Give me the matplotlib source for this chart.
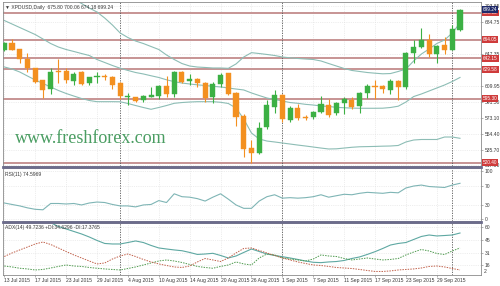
import numpy as np
import matplotlib
matplotlib.use('Agg')
import matplotlib.pyplot as plt
import matplotlib.transforms as mtransforms
from matplotlib.lines import Line2D

plt.rcParams['font.family'] = ['Liberation Sans', 'DejaVu Sans']

# daily XPDUSD bars, 13 Jul 2015 .. 2 Oct 2015
opens = [652.0, 660.0, 652.8, 641.8, 630.6, 616.9, 606.0, 627.8, 627.8, 616.1,
         626.0, 613.0, 620.5, 621.7, 620.0, 613.8, 597.0, 596.7, 593.6, 597.4,
         598.6, 609.9, 600.2, 626.3, 615.8, 617.7, 613.8, 597.4, 612.3, 624.8,
         601.4, 574.9, 537.1, 532.0, 562.3, 585.7, 599.4, 570.2, 583.8, 574.0,
         574.0, 580.0, 587.7, 578.2, 589.7, 593.6, 586.5, 601.4, 610.3, 609.9,
         605.2, 615.8, 609.2, 648.2, 655.2, 663.7, 647.35, 657.9, 652.0, 675.80]
highs = [661.0, 664.5, 653.0, 648.2, 631.0, 617.5, 630.6, 641.1, 630.6, 626.6,
         627.0, 621.0, 626.6, 624.0, 622.0, 614.6, 601.4, 597.5, 599.0, 608.4,
         611.0, 621.6, 627.0, 627.0, 624.0, 619.0, 614.6, 615.0, 624.8, 625.5,
         603.0, 577.0, 546.8, 568.3, 593.6, 605.2, 600.0, 586.0, 589.0, 576.0,
         581.0, 598.0, 595.0, 591.0, 597.0, 596.6, 602.6, 612.2, 617.0, 611.0,
         618.0, 617.0, 650.0, 663.7, 677.4, 670.7, 658.0, 667.6, 681.0, 700.06]
lows = [651.0, 651.5, 637.2, 626.6, 613.5, 595.5, 600.2, 613.0, 613.0, 611.5,
        611.0, 611.0, 613.9, 617.0, 606.0, 594.3, 587.7, 591.5, 591.5, 596.7,
        595.0, 597.0, 597.0, 613.0, 611.0, 609.0, 591.6, 590.0, 609.0, 599.0,
        563.0, 527.3, 519.6, 531.0, 559.3, 578.7, 568.0, 568.0, 570.0, 570.0,
        571.0, 578.0, 574.0, 576.0, 576.8, 583.5, 578.0, 595.5, 594.4, 601.4,
        600.6, 593.6, 607.0, 636.5, 654.0, 644.2, 636.5, 647.35, 652.0, 674.18]
closes = [659.9, 652.0, 641.1, 630.6, 615.0, 605.2, 626.6, 626.6, 617.0, 623.9,
          612.0, 620.0, 621.7, 620.0, 611.4, 598.2, 598.2, 592.7, 598.2, 599.4,
          609.9, 600.0, 626.3, 615.0, 618.1, 613.8, 595.5, 612.3, 622.8, 600.6,
          573.4, 535.9, 532.0, 561.2, 587.7, 599.4, 571.0, 584.4, 572.2, 572.5,
          579.5, 588.9, 576.0, 589.7, 594.7, 585.7, 601.4, 609.9, 609.2, 606.0,
          615.8, 608.4, 648.9, 655.2, 663.7, 647.35, 656.7, 652.0, 676.2, 699.24]

bb_upper = [741.0, 735.0, 730.0, 727.0, 723.0, 719.0, 717.0, 715.0, 713.0, 711.5,
            706.4, 701.1, 696.4, 689.4, 681.2, 671.9, 666.6, 662.5, 659.6, 656.1,
            652.6, 646.2, 640.9, 636.2, 633.3, 632.1, 631.6, 631.0, 631.0, 630.6,
            635.7, 643.8, 648.9, 647.9, 646.8, 645.6, 643.8, 642.9, 642.1, 641.5,
            640.9, 639.2, 636.2, 633.3, 630.4, 628.1, 626.9, 625.7, 624.9, 624.2,
            624.5, 626.9, 629.8, 639.2, 647.3, 653.2, 659.6, 663.7, 671.9, 683.6]
bb_middle = [686.5, 682.4, 678.3, 674.2, 670.1, 664.9, 659.6, 655.5, 652.6, 650.3,
             647.9, 645.6, 640.9, 637.4, 633.9, 630.7, 628.1, 625.7, 624.0, 621.9,
             619.9, 617.2, 615.0, 613.4, 612.3, 611.3, 610.5, 609.6, 608.8, 607.6,
             606.4, 605.3, 601.8, 598.8, 595.9, 594.2, 592.4, 590.6, 589.7, 588.5,
             587.7, 586.6, 586.0, 585.0, 584.5, 584.1, 583.9, 583.9, 583.9, 584.0,
             584.8, 586.3, 591.2, 597.6, 600.6, 604.1, 607.6, 611.1, 615.2, 619.9]
bb_lower = [632.2, 629.8, 626.3, 621.6, 617.0, 612.9, 608.8, 604.7, 601.2, 598.2,
            595.3, 593.0, 591.6, 591.6, 591.6, 591.5, 589.5, 587.1, 584.8, 582.7,
            584.8, 587.1, 589.7, 590.6, 591.2, 591.6, 591.6, 591.6, 590.9, 589.5,
            584.2, 571.4, 555.0, 548.0, 545.6, 544.5, 543.3, 542.1, 540.9, 539.8,
            538.6, 537.4, 536.3, 536.5, 537.4, 538.3, 538.9, 539.1, 539.3, 539.6,
            539.8, 540.4, 544.5, 546.8, 547.4, 547.4, 547.4, 550.3, 550.3, 548.8]

rsi = [34, 31, 28, 24, 21, 20, 33, 33, 32, 33,
       30, 34, 36, 35, 31, 28, 28, 26, 30, 31,
       39, 35, 53, 47, 46, 43, 38, 46, 53, 42,
       30, 23, 23, 38, 47, 51, 44, 45, 44, 45,
       47, 51, 46, 49, 52, 51, 54, 56, 55, 54,
       56, 55, 65, 69, 71, 68, 67, 66, 71, 74.6]

adx = [70.0, 69.0, 68.0, 67.0, 66.5, 66.0, 65.5, 61.2, 58.3, 55.4,
       52.5, 49.0, 45.0, 41.5, 40.9, 40.9, 42.6, 44.4, 42.6, 39.2,
       36.3, 35.1, 34.0, 33.1, 31.1, 28.8, 29.3, 30.1, 27.6, 24.7,
       27.0, 31.1, 35.1, 32.2, 29.3, 27.6, 26.2, 24.7, 23.0, 21.2,
       19.7, 19.3, 20.1, 20.6, 21.8, 24.1, 25.9, 28.8, 32.0, 35.7,
       39.7, 41.5, 42.6, 46.1, 49.6, 51.3, 50.2, 50.7, 51.3, 53.6]
plus_di = [15.4, 14.3, 12.8, 12.0, 10.8, 11.4, 13.1, 14.9, 16.6, 15.4,
           14.9, 13.7, 12.8, 12.0, 11.4, 10.8, 12.5, 14.3, 16.6, 18.9,
           21.2, 22.4, 21.2, 19.5, 17.2, 14.9, 13.7, 12.8, 14.9, 16.6,
           20.1, 17.8, 16.6, 24.7, 29.3, 28.2, 24.7, 23.5, 22.4, 21.2,
           23.5, 28.2, 27.0, 26.4, 24.1, 22.4, 23.5, 24.7, 23.5, 22.4,
           23.0, 24.1, 28.2, 31.6, 34.5, 32.8, 29.9, 28.7, 32.8, 36.3]
minus_di = [26.4, 30.5, 34.0, 37.4, 40.9, 43.2, 40.3, 36.3, 32.2, 28.2,
            24.7, 21.2, 17.8, 18.9, 23.5, 27.0, 29.3, 26.4, 23.0, 20.1,
            17.8, 16.0, 14.3, 13.7, 15.4, 20.1, 24.1, 22.4, 20.6, 24.7,
            30.5, 35.7, 36.3, 33.4, 30.5, 27.6, 24.7, 22.4, 20.1, 18.3,
            16.6, 16.0, 14.9, 13.7, 13.1, 12.5, 11.4, 10.2, 9.1, 9.1,
            9.7, 10.8, 11.4, 12.0, 13.1, 14.9, 15.4, 14.3, 12.5, 10.8]

date_labels = ['13 Jul 2015', '17 Jul 2015', '23 Jul 2015', '29 Jul 2015',
               '4 Aug 2015', '10 Aug 2015', '14 Aug 2015', '20 Aug 2015',
               '26 Aug 2015', '1 Sep 2015', '7 Sep 2015', '11 Sep 2015',
               '17 Sep 2015', '23 Sep 2015', '29 Sep 2015']
month_starts = [15, 36, 58]   # 3 Aug, 1 Sep, 1 Oct

levels = [695.35, 664.05, 642.15, 629.58, 595.30, 520.40]
price_ticks = [703.85, 684.75, 647.35, 609.95, 591.50, 573.10, 554.40, 535.70, 517.00]
last_price = 699.24

UP = '#3cb044'
DOWN = '#f39020'
BAND = '#8dbdb5'
LEVEL = '#c79494'
TXT = '#3a3a3a'
FS = 3.6

x = np.arange(len(closes))
o = np.array(opens)
c = np.array(closes)

fig = plt.figure(figsize=(5, 2.86), dpi=100)
ax = fig.add_axes([0.006, 0.4196, 0.956, 0.5734])
ax_rsi = fig.add_axes([0.006, 0.2273, 0.956, 0.1853])
ax_adx = fig.add_axes([0.006, 0.0385, 0.956, 0.1818])


def style_panel(a):
    a.set_xlim(-0.17, 61.72)
    a.set_xticks(np.arange(0, len(closes), 4))
    a.grid(True, color='#dedede', linestyle=':', linewidth=0.5)
    a.set_axisbelow(True)
    a.yaxis.tick_right()
    a.tick_params(axis='y', labelsize=FS, length=1.5, width=0.4, pad=1.2,
                  colors='#777777', labelcolor=TXT)
    a.tick_params(axis='x', length=0, labelbottom=False)
    for s in a.spines.values():
        s.set_color('#8a8a8a')
        s.set_linewidth(0.6)
    for m in month_starts:
        a.axvline(m, color='#555555', linestyle=(0, (1.5, 1.5)), linewidth=0.6)


for a in (ax, ax_rsi, ax_adx):
    style_panel(a)

# main panel
ax.set_ylim(516.42, 708.13)
ax.set_yticks(price_ticks)
ax.set_yticklabels([f'{p:.2f}' for p in price_ticks])
for lv in levels:
    ax.axhline(lv, color=LEVEL, linewidth=1.4, zorder=1)
ax.plot(x, bb_upper, color=BAND, linewidth=0.8, zorder=2)
ax.plot(x, bb_middle, color=BAND, linewidth=0.8, zorder=2)
ax.plot(x, bb_lower, color=BAND, linewidth=0.8, zorder=2)

colors = [UP if cc >= oo else DOWN for oo, cc in zip(opens, closes)]
ax.vlines(x, lows, highs, colors=colors, linewidth=0.8, zorder=3)
ax.bar(x, np.maximum(np.abs(c - o), 0.8), bottom=np.minimum(o, c), width=0.66,
       color=colors, edgecolor=colors, linewidth=0.3, zorder=4)

yt = mtransforms.blended_transform_factory(ax.transAxes, ax.transData)
for lv in levels:
    ax.text(1.004, lv, f'{lv:.2f}', transform=yt, fontsize=FS - 0.2, color='white',
            va='center', ha='left', clip_on=False, zorder=6,
            bbox=dict(boxstyle='square,pad=0.18', fc='#cf3b3b', ec='none'))
ax.text(1.004, last_price, f'{last_price:.2f}', transform=yt, fontsize=FS - 0.2,
        color='white', va='center', ha='left', clip_on=False, zorder=6,
        bbox=dict(boxstyle='square,pad=0.18', fc='#1f2a6a', ec='none'))

ax.text(0.005, 0.983, '\u25bc XPDUSD,Daily  675.80 700.06 674.18 699.24',
        transform=ax.transAxes, fontsize=FS, color=TXT, va='top', ha='left')
ax.text(0.025, 0.168, 'www.freshforex.com', transform=ax.transAxes,
        family='Liberation Serif', fontsize=13, color='#4a9d62',
        va='center', ha='left', zorder=5)

# RSI panel
ax_rsi.set_ylim(-3.1, 106.2)
ax_rsi.set_yticks([0, 30, 70, 100])
ax_rsi.plot(x, rsi, color='#7fb5b5', linewidth=0.8)
ax_rsi.text(0.005, 0.93, 'RSI(11) 74.5969', transform=ax_rsi.transAxes,
            fontsize=FS, color=TXT, va='top', ha='left')

# ADX panel
ax_adx.set_ylim(5.0, 65.2)
ax_adx.set_yticks([16, 31, 45, 60])
ax_adx.plot(x, adx, color='#5ea8a2', linewidth=0.8)
ax_adx.plot(x, plus_di, color='#4e9a4e', linewidth=0.7, linestyle=(0, (1.5, 1.2)))
ax_adx.plot(x, minus_di, color='#c0604a', linewidth=0.7, linestyle=(0, (1.5, 1.2)))
ax_adx.text(1.006, 0.06, '2', transform=ax_adx.transAxes, fontsize=FS,
            color=TXT, va='center', ha='left')
ax_adx.text(0.005, 0.96, 'ADX(14) 49.7236 +DI:34.6296 -DI:17.3765',
            transform=ax_adx.transAxes, fontsize=FS, color=TXT, va='top', ha='left')
ax_adx.set_xticklabels(date_labels)
ax_adx.tick_params(axis='x', labelbottom=True, length=1.5, width=0.4,
                   pad=1.0, labelsize=FS, labelcolor=TXT, colors='#777777')
for lbl in ax_adx.get_xticklabels():
    lbl.set_ha('left')

# heavy separators between the panels
for yy in (1 - 166.5 / 286, 1 - 222 / 286):
    fig.add_artist(Line2D([0.006, 0.962], [yy, yy], transform=fig.transFigure,
                          color='#6c6c8c', linewidth=2))

fig.savefig('out.png', dpi=100)
